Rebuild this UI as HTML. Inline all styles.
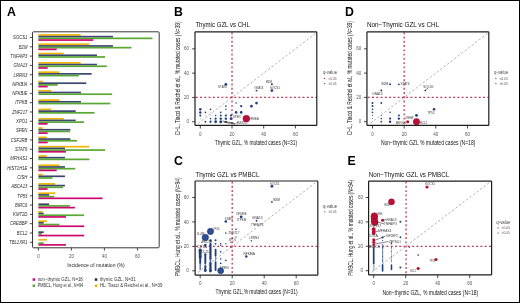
<!DOCTYPE html>
<html><head><meta charset="utf-8"><style>
html,body{margin:0;padding:0;background:#fff;}
svg{display:block;font-family:"Liberation Sans",sans-serif;will-change:transform;}
</style></head><body>
<svg width="520" height="303" viewBox="0 0 520 303">
<rect width="520" height="303" fill="#fff"/>
<rect x="0" y="0" width="520" height="1" fill="#000"/>
<rect x="0" y="302" width="520" height="1" fill="#000"/>
<rect x="0" y="0" width="1" height="303" fill="#000"/>
<rect x="519" y="0" width="1" height="303" fill="#000"/>
<text x="6.9" y="15.95" font-size="12.3" text-anchor="start" font-weight="bold" fill="#000">A</text>
<text x="173.9" y="15.85" font-size="12.3" text-anchor="start" font-weight="bold" fill="#000">B</text>
<text x="174.0" y="165.4" font-size="12.3" text-anchor="start" font-weight="bold" fill="#000">C</text>
<text x="344.9" y="15.7" font-size="12.3" text-anchor="start" font-weight="bold" fill="#000">D</text>
<text x="347.5" y="165.4" font-size="12.3" text-anchor="start" font-weight="bold" fill="#000">E</text>
<rect x="32.5" y="31.8" width="126.7" height="216.0" rx="1" fill="none" stroke="#222" stroke-width="0.9"/>
<rect x="38.4" y="34.10" width="42.24" height="1.7" fill="#efb500"/>
<rect x="38.4" y="35.80" width="74.58" height="1.7" fill="#3b4770"/>
<rect x="38.4" y="37.50" width="114.01" height="1.7" fill="#5aa735"/>
<rect x="38.4" y="39.20" width="54.94" height="1.7" fill="#cc0a6e"/>
<line x1="29.8" y1="37.50" x2="32.5" y2="37.50" stroke="#222" stroke-width="0.8"/>
<g transform="translate(27.4 0) scale(0.94 1)">
<text x="0" y="39.30" font-size="4.5" text-anchor="end" font-style="italic" fill="#2a2a2a">SOCS1</text>
</g>
<rect x="38.4" y="43.41" width="50.82" height="1.7" fill="#efb500"/>
<rect x="38.4" y="45.11" width="74.58" height="1.7" fill="#3b4770"/>
<rect x="38.4" y="46.81" width="93.06" height="1.7" fill="#5aa735"/>
<rect x="38.4" y="48.51" width="18.31" height="1.7" fill="#cc0a6e"/>
<line x1="29.8" y1="46.81" x2="32.5" y2="46.81" stroke="#222" stroke-width="0.8"/>
<g transform="translate(27.4 0) scale(0.94 1)">
<text x="0" y="48.61" font-size="4.5" text-anchor="end" font-style="italic" fill="#2a2a2a">B2M</text>
</g>
<rect x="38.4" y="52.72" width="25.41" height="1.7" fill="#efb500"/>
<rect x="38.4" y="54.42" width="58.57" height="1.7" fill="#3b4770"/>
<rect x="38.4" y="56.12" width="66.66" height="1.7" fill="#5aa735"/>
<line x1="29.8" y1="56.12" x2="32.5" y2="56.12" stroke="#222" stroke-width="0.8"/>
<g transform="translate(27.4 0) scale(0.94 1)">
<text x="0" y="57.92" font-size="4.5" text-anchor="end" font-style="italic" fill="#2a2a2a">TNFAIP3</text>
</g>
<rect x="38.4" y="62.03" width="42.24" height="1.7" fill="#efb500"/>
<rect x="38.4" y="63.73" width="58.57" height="1.7" fill="#3b4770"/>
<rect x="38.4" y="65.43" width="68.47" height="1.7" fill="#5aa735"/>
<rect x="38.4" y="67.13" width="9.24" height="1.7" fill="#cc0a6e"/>
<line x1="29.8" y1="65.43" x2="32.5" y2="65.43" stroke="#222" stroke-width="0.8"/>
<g transform="translate(27.4 0) scale(0.94 1)">
<text x="0" y="67.23" font-size="4.5" text-anchor="end" font-style="italic" fill="#2a2a2a">GNA13</text>
</g>
<rect x="38.4" y="71.34" width="21.12" height="1.7" fill="#efb500"/>
<rect x="38.4" y="73.04" width="53.29" height="1.7" fill="#3b4770"/>
<rect x="38.4" y="74.74" width="40.42" height="1.7" fill="#5aa735"/>
<line x1="29.8" y1="74.74" x2="32.5" y2="74.74" stroke="#222" stroke-width="0.8"/>
<g transform="translate(27.4 0) scale(0.94 1)">
<text x="0" y="76.54" font-size="4.5" text-anchor="end" font-style="italic" fill="#2a2a2a">LRRN3</text>
</g>
<rect x="38.4" y="80.65" width="4.29" height="1.7" fill="#efb500"/>
<rect x="38.4" y="82.35" width="47.85" height="1.7" fill="#3b4770"/>
<rect x="38.4" y="84.05" width="19.30" height="1.7" fill="#5aa735"/>
<rect x="38.4" y="85.75" width="9.24" height="1.7" fill="#cc0a6e"/>
<line x1="29.8" y1="84.05" x2="32.5" y2="84.05" stroke="#222" stroke-width="0.8"/>
<g transform="translate(27.4 0) scale(0.94 1)">
<text x="0" y="85.85" font-size="4.5" text-anchor="end" font-style="italic" fill="#2a2a2a">NFKBIA</text>
</g>
<rect x="38.4" y="89.96" width="12.71" height="1.7" fill="#efb500"/>
<rect x="38.4" y="91.66" width="42.57" height="1.7" fill="#3b4770"/>
<rect x="38.4" y="93.36" width="73.75" height="1.7" fill="#5aa735"/>
<line x1="29.8" y1="93.36" x2="32.5" y2="93.36" stroke="#222" stroke-width="0.8"/>
<g transform="translate(27.4 0) scale(0.94 1)">
<text x="0" y="95.16" font-size="4.5" text-anchor="end" font-style="italic" fill="#2a2a2a">NFKBIE</text>
</g>
<rect x="38.4" y="99.27" width="21.12" height="1.7" fill="#efb500"/>
<rect x="38.4" y="100.97" width="42.57" height="1.7" fill="#3b4770"/>
<rect x="38.4" y="102.67" width="71.94" height="1.7" fill="#5aa735"/>
<line x1="29.8" y1="102.67" x2="32.5" y2="102.67" stroke="#222" stroke-width="0.8"/>
<g transform="translate(27.4 0) scale(0.94 1)">
<text x="0" y="104.47" font-size="4.5" text-anchor="end" font-style="italic" fill="#2a2a2a">ITPKB</text>
</g>
<rect x="38.4" y="108.58" width="12.71" height="1.7" fill="#efb500"/>
<rect x="38.4" y="110.28" width="37.29" height="1.7" fill="#3b4770"/>
<rect x="38.4" y="111.98" width="56.10" height="1.7" fill="#5aa735"/>
<line x1="29.8" y1="111.98" x2="32.5" y2="111.98" stroke="#222" stroke-width="0.8"/>
<g transform="translate(27.4 0) scale(0.94 1)">
<text x="0" y="113.78" font-size="4.5" text-anchor="end" font-style="italic" fill="#2a2a2a">ZNF217</text>
</g>
<rect x="38.4" y="117.89" width="25.41" height="1.7" fill="#efb500"/>
<rect x="38.4" y="119.59" width="37.29" height="1.7" fill="#3b4770"/>
<rect x="38.4" y="121.29" width="45.70" height="1.7" fill="#5aa735"/>
<rect x="38.4" y="122.99" width="9.24" height="1.7" fill="#cc0a6e"/>
<line x1="29.8" y1="121.29" x2="32.5" y2="121.29" stroke="#222" stroke-width="0.8"/>
<g transform="translate(27.4 0) scale(0.94 1)">
<text x="0" y="123.09" font-size="4.5" text-anchor="end" font-style="italic" fill="#2a2a2a">XPO1</text>
</g>
<rect x="38.4" y="127.20" width="4.29" height="1.7" fill="#efb500"/>
<rect x="38.4" y="128.90" width="32.01" height="1.7" fill="#3b4770"/>
<rect x="38.4" y="130.60" width="31.52" height="1.7" fill="#5aa735"/>
<rect x="38.4" y="132.30" width="9.24" height="1.7" fill="#cc0a6e"/>
<line x1="29.8" y1="130.60" x2="32.5" y2="130.60" stroke="#222" stroke-width="0.8"/>
<g transform="translate(27.4 0) scale(0.94 1)">
<text x="0" y="132.40" font-size="4.5" text-anchor="end" font-style="italic" fill="#2a2a2a">SPEN</text>
</g>
<rect x="38.4" y="136.51" width="8.41" height="1.7" fill="#efb500"/>
<rect x="38.4" y="138.21" width="32.01" height="1.7" fill="#3b4770"/>
<rect x="38.4" y="139.91" width="38.61" height="1.7" fill="#5aa735"/>
<rect x="38.4" y="141.61" width="9.24" height="1.7" fill="#cc0a6e"/>
<line x1="29.8" y1="139.91" x2="32.5" y2="139.91" stroke="#222" stroke-width="0.8"/>
<g transform="translate(27.4 0) scale(0.94 1)">
<text x="0" y="141.71" font-size="4.5" text-anchor="end" font-style="italic" fill="#2a2a2a">CSF2RB</text>
</g>
<rect x="38.4" y="145.82" width="50.82" height="1.7" fill="#efb500"/>
<rect x="38.4" y="147.52" width="26.57" height="1.7" fill="#3b4770"/>
<rect x="38.4" y="149.22" width="66.66" height="1.7" fill="#5aa735"/>
<rect x="38.4" y="150.92" width="27.55" height="1.7" fill="#cc0a6e"/>
<line x1="29.8" y1="149.22" x2="32.5" y2="149.22" stroke="#222" stroke-width="0.8"/>
<g transform="translate(27.4 0) scale(0.94 1)">
<text x="0" y="151.02" font-size="4.5" text-anchor="end" font-style="italic" fill="#2a2a2a">STAT6</text>
</g>
<rect x="38.4" y="155.13" width="8.41" height="1.7" fill="#efb500"/>
<rect x="38.4" y="156.83" width="26.57" height="1.7" fill="#3b4770"/>
<rect x="38.4" y="158.53" width="50.98" height="1.7" fill="#5aa735"/>
<line x1="29.8" y1="158.53" x2="32.5" y2="158.53" stroke="#222" stroke-width="0.8"/>
<g transform="translate(27.4 0) scale(0.94 1)">
<text x="0" y="160.33" font-size="4.5" text-anchor="end" font-style="italic" fill="#2a2a2a">MFHAS1</text>
</g>
<rect x="38.4" y="164.44" width="21.12" height="1.7" fill="#efb500"/>
<rect x="38.4" y="166.14" width="26.57" height="1.7" fill="#3b4770"/>
<rect x="38.4" y="167.84" width="36.80" height="1.7" fill="#5aa735"/>
<rect x="38.4" y="169.54" width="18.31" height="1.7" fill="#cc0a6e"/>
<line x1="29.8" y1="167.84" x2="32.5" y2="167.84" stroke="#222" stroke-width="0.8"/>
<g transform="translate(27.4 0) scale(0.94 1)">
<text x="0" y="169.64" font-size="4.5" text-anchor="end" font-style="italic" fill="#2a2a2a">HIST1H1E</text>
</g>
<rect x="38.4" y="173.75" width="4.29" height="1.7" fill="#efb500"/>
<rect x="38.4" y="175.45" width="26.57" height="1.7" fill="#3b4770"/>
<rect x="38.4" y="177.15" width="14.02" height="1.7" fill="#5aa735"/>
<line x1="29.8" y1="177.15" x2="32.5" y2="177.15" stroke="#222" stroke-width="0.8"/>
<g transform="translate(27.4 0) scale(0.94 1)">
<text x="0" y="178.95" font-size="4.5" text-anchor="end" font-style="italic" fill="#2a2a2a">CISH</text>
</g>
<rect x="38.4" y="183.06" width="17.00" height="1.7" fill="#efb500"/>
<rect x="38.4" y="184.76" width="26.57" height="1.7" fill="#3b4770"/>
<rect x="38.4" y="186.46" width="24.59" height="1.7" fill="#5aa735"/>
<rect x="38.4" y="188.16" width="9.24" height="1.7" fill="#cc0a6e"/>
<line x1="29.8" y1="186.46" x2="32.5" y2="186.46" stroke="#222" stroke-width="0.8"/>
<g transform="translate(27.4 0) scale(0.94 1)">
<text x="0" y="188.26" font-size="4.5" text-anchor="end" font-style="italic" fill="#2a2a2a">ABCA13</text>
</g>
<rect x="38.4" y="192.37" width="17.00" height="1.7" fill="#efb500"/>
<rect x="38.4" y="194.07" width="10.72" height="1.7" fill="#3b4770"/>
<rect x="38.4" y="195.77" width="15.84" height="1.7" fill="#5aa735"/>
<rect x="38.4" y="197.47" width="64.18" height="1.7" fill="#cc0a6e"/>
<line x1="29.8" y1="195.77" x2="32.5" y2="195.77" stroke="#222" stroke-width="0.8"/>
<g transform="translate(27.4 0) scale(0.94 1)">
<text x="0" y="197.57" font-size="4.5" text-anchor="end" font-style="italic" fill="#2a2a2a">TP53</text>
</g>
<rect x="38.4" y="203.38" width="10.72" height="1.7" fill="#3b4770"/>
<rect x="38.4" y="205.08" width="31.52" height="1.7" fill="#5aa735"/>
<rect x="38.4" y="206.78" width="36.63" height="1.7" fill="#cc0a6e"/>
<line x1="29.8" y1="205.08" x2="32.5" y2="205.08" stroke="#222" stroke-width="0.8"/>
<g transform="translate(27.4 0) scale(0.94 1)">
<text x="0" y="206.88" font-size="4.5" text-anchor="end" font-style="italic" fill="#2a2a2a">BIRC6</text>
</g>
<rect x="38.4" y="210.99" width="4.29" height="1.7" fill="#efb500"/>
<rect x="38.4" y="212.69" width="5.28" height="1.7" fill="#3b4770"/>
<rect x="38.4" y="214.39" width="45.70" height="1.7" fill="#5aa735"/>
<rect x="38.4" y="216.09" width="27.55" height="1.7" fill="#cc0a6e"/>
<line x1="29.8" y1="214.39" x2="32.5" y2="214.39" stroke="#222" stroke-width="0.8"/>
<g transform="translate(27.4 0) scale(0.94 1)">
<text x="0" y="216.19" font-size="4.5" text-anchor="end" font-style="italic" fill="#2a2a2a">KMT2D</text>
</g>
<rect x="38.4" y="220.30" width="8.41" height="1.7" fill="#efb500"/>
<rect x="38.4" y="222.00" width="5.28" height="1.7" fill="#3b4770"/>
<rect x="38.4" y="223.70" width="21.12" height="1.7" fill="#5aa735"/>
<rect x="38.4" y="225.40" width="45.87" height="1.7" fill="#cc0a6e"/>
<line x1="29.8" y1="223.70" x2="32.5" y2="223.70" stroke="#222" stroke-width="0.8"/>
<g transform="translate(27.4 0) scale(0.94 1)">
<text x="0" y="225.50" font-size="4.5" text-anchor="end" font-style="italic" fill="#2a2a2a">CREBBP</text>
</g>
<rect x="38.4" y="231.31" width="5.28" height="1.7" fill="#3b4770"/>
<rect x="38.4" y="233.01" width="3.46" height="1.7" fill="#5aa735"/>
<rect x="38.4" y="234.71" width="45.87" height="1.7" fill="#cc0a6e"/>
<line x1="29.8" y1="233.01" x2="32.5" y2="233.01" stroke="#222" stroke-width="0.8"/>
<g transform="translate(27.4 0) scale(0.94 1)">
<text x="0" y="234.81" font-size="4.5" text-anchor="end" font-style="italic" fill="#2a2a2a">BCL2</text>
</g>
<rect x="38.4" y="238.92" width="8.41" height="1.7" fill="#efb500"/>
<rect x="38.4" y="242.32" width="5.28" height="1.7" fill="#5aa735"/>
<rect x="38.4" y="244.02" width="27.55" height="1.7" fill="#cc0a6e"/>
<line x1="29.8" y1="242.32" x2="32.5" y2="242.32" stroke="#222" stroke-width="0.8"/>
<g transform="translate(27.4 0) scale(0.94 1)">
<text x="0" y="244.12" font-size="4.5" text-anchor="end" font-style="italic" fill="#2a2a2a">TBL1XR1</text>
</g>
<line x1="38.40" y1="247.8" x2="38.40" y2="250.6" stroke="#222" stroke-width="0.8"/>
<text x="38.40" y="258.0" font-size="4.5" text-anchor="middle" fill="#555">0</text>
<line x1="71.40" y1="247.8" x2="71.40" y2="250.6" stroke="#222" stroke-width="0.8"/>
<text x="71.40" y="258.0" font-size="4.5" text-anchor="middle" fill="#555">20</text>
<line x1="104.40" y1="247.8" x2="104.40" y2="250.6" stroke="#222" stroke-width="0.8"/>
<text x="104.40" y="258.0" font-size="4.5" text-anchor="middle" fill="#555">40</text>
<line x1="137.40" y1="247.8" x2="137.40" y2="250.6" stroke="#222" stroke-width="0.8"/>
<text x="137.40" y="258.0" font-size="4.5" text-anchor="middle" fill="#555">60</text>
<text x="67.2" y="267.2" font-size="6.0" text-anchor="start" textLength="57.6" lengthAdjust="spacingAndGlyphs" fill="#1e1e1e">Incidence of mutation (%)</text>
<rect x="32.6" y="278.3" width="2.5" height="2.5" fill="#cc0a6e"/>
<text x="37.699999999999996" y="280.70" font-size="4.6" text-anchor="start" textLength="45.1" lengthAdjust="spacingAndGlyphs" fill="#333">non−thymic GZL, N=18</text>
<rect x="94.8" y="278.3" width="2.5" height="2.5" fill="#222a4a"/>
<text x="99.89999999999999" y="280.70" font-size="4.6" text-anchor="start" textLength="35.9" lengthAdjust="spacingAndGlyphs" fill="#333">thymic GZL, N=31</text>
<rect x="32.6" y="284.5" width="2.5" height="2.5" fill="#5aa735"/>
<text x="37.699999999999996" y="286.90" font-size="4.6" text-anchor="start" textLength="45.5" lengthAdjust="spacingAndGlyphs" fill="#333">PMBCL, Hung et al., N=94</text>
<rect x="94.8" y="284.5" width="2.5" height="2.5" fill="#efb500"/>
<text x="99.89999999999999" y="286.90" font-size="4.6" text-anchor="start" textLength="62.5" lengthAdjust="spacingAndGlyphs" fill="#333">HL: Tiacci &amp; Reichel et al., N=39</text>
<text x="195.4" y="27.4" font-size="6.4" text-anchor="start" textLength="54.5" lengthAdjust="spacingAndGlyphs" fill="#111">Thymic GZL vs CHL</text>
<line x1="198.24" y1="123.33" x2="315.69" y2="33.30" stroke="#a0a0a0" stroke-width="0.8" stroke-dasharray="2.4,2.0"/>
<line x1="232.00" y1="32.30" x2="232.00" y2="125.30" stroke="#c13556" stroke-width="1.3" stroke-dasharray="1.9,2.37"/>
<line x1="195.80" y1="97.45" x2="316.80" y2="97.45" stroke="#c13556" stroke-width="1.3" stroke-dasharray="1.9,2.37"/>
<circle cx="200.30" cy="109.29" r="1.3" fill="#1f3f7a" fill-opacity="1"/>
<circle cx="200.30" cy="112.40" r="1.25" fill="#1f3f7a" fill-opacity="1"/>
<circle cx="200.30" cy="115.52" r="1.0" fill="#1f3f7a" fill-opacity="1"/>
<circle cx="200.30" cy="118.63" r="0.5" fill="#1f3f7a" fill-opacity="0.5"/>
<circle cx="205.41" cy="112.40" r="0.8" fill="#1f3f7a" fill-opacity="1"/>
<circle cx="205.41" cy="115.52" r="0.5" fill="#1f3f7a" fill-opacity="0.35"/>
<circle cx="205.41" cy="121.75" r="0.95" fill="#1f3f7a" fill-opacity="1"/>
<circle cx="210.53" cy="109.29" r="0.85" fill="#1f3f7a" fill-opacity="1"/>
<circle cx="210.53" cy="112.40" r="0.5" fill="#1f3f7a" fill-opacity="0.35"/>
<circle cx="210.53" cy="115.52" r="0.5" fill="#1f3f7a" fill-opacity="0.35"/>
<circle cx="210.53" cy="118.63" r="0.8" fill="#1f3f7a" fill-opacity="1"/>
<circle cx="210.53" cy="121.75" r="1.15" fill="#1f3f7a" fill-opacity="1"/>
<circle cx="215.64" cy="106.17" r="0.6" fill="#1f3f7a" fill-opacity="0.2"/>
<circle cx="215.64" cy="115.52" r="0.8" fill="#1f3f7a" fill-opacity="1"/>
<circle cx="215.64" cy="118.63" r="1.1" fill="#1f3f7a" fill-opacity="1"/>
<circle cx="215.64" cy="121.75" r="1.4" fill="#1f3f7a" fill-opacity="1"/>
<circle cx="220.75" cy="112.40" r="0.8" fill="#1f3f7a" fill-opacity="1"/>
<circle cx="220.75" cy="115.52" r="1.0" fill="#1f3f7a" fill-opacity="1"/>
<circle cx="220.75" cy="118.63" r="1.2" fill="#1f3f7a" fill-opacity="1"/>
<circle cx="220.75" cy="121.75" r="1.5" fill="#1f3f7a" fill-opacity="1"/>
<circle cx="225.86" cy="121.75" r="1.1" fill="#1f3f7a" fill-opacity="1"/>
<circle cx="225.86" cy="106.17" r="0.8" fill="#1f3f7a" fill-opacity="1"/>
<circle cx="225.86" cy="109.29" r="0.8" fill="#1f3f7a" fill-opacity="1"/>
<circle cx="225.86" cy="115.52" r="1.1" fill="#1f3f7a" fill-opacity="1"/>
<circle cx="225.86" cy="118.63" r="1.2" fill="#1f3f7a" fill-opacity="1"/>
<circle cx="230.98" cy="115.52" r="1.1" fill="#1f3f7a" fill-opacity="1"/>
<circle cx="230.98" cy="118.63" r="1.3" fill="#1f3f7a" fill-opacity="1"/>
<circle cx="236.09" cy="103.06" r="0.8" fill="#1f3f7a" fill-opacity="1"/>
<circle cx="236.09" cy="112.40" r="1.3" fill="#1f3f7a" fill-opacity="1"/>
<circle cx="241.20" cy="106.17" r="1.1" fill="#1f3f7a" fill-opacity="1"/>
<circle cx="241.20" cy="112.40" r="1.3" fill="#1f3f7a" fill-opacity="1"/>
<circle cx="251.43" cy="106.17" r="1.35" fill="#1f3f7a" fill-opacity="1"/>
<circle cx="256.54" cy="103.06" r="1.35" fill="#1f3f7a" fill-opacity="1"/>
<circle cx="225.86" cy="84.37" r="1.35" fill="#1f3f7a" fill-opacity="1"/>
<circle cx="256.54" cy="90.60" r="0.95" fill="#1f3f7a" fill-opacity="1"/>
<circle cx="271.88" cy="84.37" r="1.0" fill="#1f3f7a" fill-opacity="1"/>
<circle cx="271.88" cy="90.60" r="1.35" fill="#1f3f7a" fill-opacity="1"/>
<circle cx="246.32" cy="118.63" r="3.4" fill="#bd0f35" stroke="#a00a2c" stroke-width="0.5"/>
<path d="M222.5 121.0 L235.5 123.6 M224 122.3 L235 124" stroke="#222" stroke-width="0.6"/>
<text x="218" y="87.6" font-size="3.5" text-anchor="start" textLength="9.0" lengthAdjust="spacingAndGlyphs" fill="#3a3a3a">STAT6</text>
<text x="254.4" y="88.6" font-size="3.5" text-anchor="start" textLength="8.8" lengthAdjust="spacingAndGlyphs" fill="#3a3a3a">GNA13</text>
<text x="265.9" y="82.7" font-size="3.5" text-anchor="start" textLength="6.0" lengthAdjust="spacingAndGlyphs" fill="#3a3a3a">B2M</text>
<text x="269.9" y="88.6" font-size="3.5" text-anchor="start" textLength="10.1" lengthAdjust="spacingAndGlyphs" fill="#3a3a3a">SOCS1</text>
<text x="233" y="117.6" font-size="3.5" text-anchor="start" textLength="7.6" lengthAdjust="spacingAndGlyphs" fill="#3a3a3a">SPEN</text>
<text x="248.6" y="120" font-size="3.5" text-anchor="start" textLength="10.2" lengthAdjust="spacingAndGlyphs" fill="#3a3a3a">NFKBIA</text>
<text x="236.5" y="124.4" font-size="3.5" text-anchor="start" textLength="11" lengthAdjust="spacingAndGlyphs" fill="#3a3a3a">ANKRD11</text>
<rect x="195.00" y="31.80" width="121.80" height="93.50" rx="0.6" fill="none" stroke="#1e1e1e" stroke-width="1.2"/>
<line x1="200.30" y1="125.30" x2="200.30" y2="128.50" stroke="#222" stroke-width="0.85"/>
<text x="200.30" y="135.60" font-size="4.5" text-anchor="middle" fill="#555">0</text>
<line x1="192.10" y1="121.75" x2="195.00" y2="121.75" stroke="#222" stroke-width="0.85"/>
<text x="188.90" y="123.35" font-size="4.5" text-anchor="end" fill="#555">0</text>
<line x1="232.00" y1="125.30" x2="232.00" y2="128.50" stroke="#222" stroke-width="0.85"/>
<text x="232.00" y="135.60" font-size="4.5" text-anchor="middle" fill="#555">20</text>
<line x1="192.10" y1="97.45" x2="195.00" y2="97.45" stroke="#222" stroke-width="0.85"/>
<text x="188.90" y="99.05" font-size="4.5" text-anchor="end" fill="#555">20</text>
<line x1="263.70" y1="125.30" x2="263.70" y2="128.50" stroke="#222" stroke-width="0.85"/>
<text x="263.70" y="135.60" font-size="4.5" text-anchor="middle" fill="#555">40</text>
<line x1="192.10" y1="73.15" x2="195.00" y2="73.15" stroke="#222" stroke-width="0.85"/>
<text x="188.90" y="74.75" font-size="4.5" text-anchor="end" fill="#555">40</text>
<line x1="295.40" y1="125.30" x2="295.40" y2="128.50" stroke="#222" stroke-width="0.85"/>
<text x="295.40" y="135.60" font-size="4.5" text-anchor="middle" fill="#555">60</text>
<line x1="192.10" y1="48.85" x2="195.00" y2="48.85" stroke="#222" stroke-width="0.85"/>
<text x="188.90" y="50.45" font-size="4.5" text-anchor="end" fill="#555">60</text>
<text x="214.8" y="144.6" font-size="6.6" text-anchor="start" textLength="82.3" lengthAdjust="spacingAndGlyphs" fill="#161616">Thymic GZL, % mutated cases (N=31)</text>
<text x="180.3" y="135.2" font-size="6.6" text-anchor="start" textLength="113.8" lengthAdjust="spacingAndGlyphs" transform="rotate(-90 180.3 135.2)" fill="#161616">CHL, Tiacci &amp; Reichel et al., % mutated cases (N=39)</text>
<text x="322.90000000000003" y="74.39999999999999" font-size="4.5" text-anchor="start" textLength="14.2" lengthAdjust="spacingAndGlyphs" fill="#4a4a4a">q-value</text>
<circle cx="324.70" cy="78.40" r="0.6" fill="#b90c32"/>
<text x="328.2" y="79.70" font-size="3.6" text-anchor="start" textLength="8.4" lengthAdjust="spacingAndGlyphs" fill="#555">&lt;0.05</text>
<circle cx="324.70" cy="83.60" r="0.6" fill="#1f3f7a"/>
<text x="328.2" y="84.90" font-size="3.6" text-anchor="start" textLength="8.4" lengthAdjust="spacingAndGlyphs" fill="#555">&gt;0.05</text>
<text x="366.9" y="27.3" font-size="6.4" text-anchor="start" textLength="72.3" lengthAdjust="spacingAndGlyphs" fill="#111">Non−Thymic GZL vs CHL</text>
<line x1="370.44" y1="123.28" x2="487.74" y2="33.25" stroke="#a0a0a0" stroke-width="0.8" stroke-dasharray="2.4,2.0"/>
<line x1="404.16" y1="32.30" x2="404.16" y2="125.30" stroke="#c13556" stroke-width="1.3" stroke-dasharray="1.9,2.37"/>
<line x1="367.75" y1="97.40" x2="488.80" y2="97.40" stroke="#c13556" stroke-width="1.3" stroke-dasharray="1.9,2.37"/>
<circle cx="372.50" cy="103.01" r="1.0" fill="#1f3f7a" fill-opacity="1"/>
<circle cx="372.50" cy="106.12" r="1.0" fill="#1f3f7a" fill-opacity="1"/>
<circle cx="372.50" cy="109.24" r="0.85" fill="#1f3f7a" fill-opacity="1"/>
<circle cx="372.50" cy="112.35" r="0.85" fill="#1f3f7a" fill-opacity="1"/>
<circle cx="372.50" cy="115.47" r="0.55" fill="#1f3f7a" fill-opacity="1"/>
<circle cx="372.50" cy="118.58" r="0.5" fill="#1f3f7a" fill-opacity="0.7"/>
<circle cx="372.50" cy="121.70" r="0.45" fill="#1f3f7a" fill-opacity="0.6"/>
<circle cx="381.29" cy="103.01" r="0.9" fill="#1f3f7a" fill-opacity="1"/>
<circle cx="381.29" cy="109.24" r="0.5" fill="#1f3f7a" fill-opacity="0.3"/>
<circle cx="381.29" cy="112.35" r="0.5" fill="#1f3f7a" fill-opacity="0.3"/>
<circle cx="381.29" cy="115.47" r="0.55" fill="#1f3f7a" fill-opacity="1"/>
<circle cx="381.29" cy="118.58" r="0.8" fill="#1f3f7a" fill-opacity="1"/>
<circle cx="381.29" cy="121.70" r="0.9" fill="#1f3f7a" fill-opacity="1"/>
<circle cx="390.09" cy="106.12" r="0.5" fill="#1f3f7a" fill-opacity="0.25"/>
<circle cx="390.09" cy="112.35" r="0.8" fill="#1f3f7a" fill-opacity="1"/>
<circle cx="390.09" cy="118.58" r="1.1" fill="#1f3f7a" fill-opacity="1"/>
<circle cx="390.09" cy="121.70" r="1.2" fill="#1f3f7a" fill-opacity="1"/>
<circle cx="398.88" cy="115.47" r="1.0" fill="#1f3f7a" fill-opacity="1"/>
<circle cx="398.88" cy="118.58" r="1.2" fill="#1f3f7a" fill-opacity="1"/>
<circle cx="416.47" cy="115.47" r="1.4" fill="#1f3f7a" fill-opacity="1"/>
<circle cx="434.06" cy="109.24" r="1.3" fill="#1f3f7a" fill-opacity="1"/>
<circle cx="390.09" cy="84.32" r="1.0" fill="#1f3f7a" fill-opacity="1"/>
<circle cx="398.88" cy="84.32" r="0.9" fill="#1f3f7a" fill-opacity="1"/>
<circle cx="381.29" cy="90.55" r="1.0" fill="#1f3f7a" fill-opacity="1"/>
<circle cx="425.27" cy="90.55" r="0.85" fill="#1f3f7a" fill-opacity="1"/>
<circle cx="407.68" cy="121.70" r="1.5" fill="#b90c32" fill-opacity="1"/>
<circle cx="416.47" cy="121.70" r="3.25" fill="#bd0f35" stroke="#a00a2c" stroke-width="0.5"/>
<path d="M425.4 90.1 L428 88.2" stroke="#222" stroke-width="0.6"/>
<text x="381.4" y="85.4" font-size="3.5" text-anchor="start" textLength="6.9" lengthAdjust="spacingAndGlyphs" fill="#3a3a3a">B2M</text>
<text x="400.6" y="85.4" font-size="3.5" text-anchor="start" textLength="8.8" lengthAdjust="spacingAndGlyphs" fill="#3a3a3a">STAT6</text>
<text x="372.2" y="94.6" font-size="3.5" text-anchor="start" textLength="10.4" lengthAdjust="spacingAndGlyphs" fill="#3a3a3a">GNA13</text>
<text x="423.2" y="88.0" font-size="3.5" text-anchor="start" textLength="10.5" lengthAdjust="spacingAndGlyphs" fill="#3a3a3a">SOCS1</text>
<text x="396" y="123.8" font-size="3.5" text-anchor="start" textLength="10.2" lengthAdjust="spacingAndGlyphs" fill="#3a3a3a">BIRC6</text>
<text x="405" y="119" font-size="3.5" text-anchor="start" textLength="8.8" lengthAdjust="spacingAndGlyphs" fill="#3a3a3a">CREBBP</text>
<text x="420" y="123.8" font-size="3.5" text-anchor="start" textLength="7.2" lengthAdjust="spacingAndGlyphs" fill="#3a3a3a">BCL2</text>
<text x="427.2" y="113.7" font-size="3.5" text-anchor="start" textLength="7.2" lengthAdjust="spacingAndGlyphs" fill="#3a3a3a">TP53</text>
<rect x="366.95" y="31.80" width="121.85" height="93.50" rx="0.6" fill="none" stroke="#1e1e1e" stroke-width="1.2"/>
<line x1="372.50" y1="125.30" x2="372.50" y2="128.50" stroke="#222" stroke-width="0.85"/>
<text x="372.50" y="135.60" font-size="4.5" text-anchor="middle" fill="#555">0</text>
<line x1="364.05" y1="121.70" x2="366.95" y2="121.70" stroke="#222" stroke-width="0.85"/>
<text x="361.35" y="123.30" font-size="4.5" text-anchor="end" fill="#555">0</text>
<line x1="404.16" y1="125.30" x2="404.16" y2="128.50" stroke="#222" stroke-width="0.85"/>
<text x="404.16" y="135.60" font-size="4.5" text-anchor="middle" fill="#555">20</text>
<line x1="364.05" y1="97.40" x2="366.95" y2="97.40" stroke="#222" stroke-width="0.85"/>
<text x="361.35" y="99.00" font-size="4.5" text-anchor="end" fill="#555">20</text>
<line x1="435.82" y1="125.30" x2="435.82" y2="128.50" stroke="#222" stroke-width="0.85"/>
<text x="435.82" y="135.60" font-size="4.5" text-anchor="middle" fill="#555">40</text>
<line x1="364.05" y1="73.10" x2="366.95" y2="73.10" stroke="#222" stroke-width="0.85"/>
<text x="361.35" y="74.70" font-size="4.5" text-anchor="end" fill="#555">40</text>
<line x1="467.48" y1="125.30" x2="467.48" y2="128.50" stroke="#222" stroke-width="0.85"/>
<text x="467.48" y="135.60" font-size="4.5" text-anchor="middle" fill="#555">60</text>
<line x1="364.05" y1="48.80" x2="366.95" y2="48.80" stroke="#222" stroke-width="0.85"/>
<text x="361.35" y="50.40" font-size="4.5" text-anchor="end" fill="#555">60</text>
<text x="380.9" y="145.3" font-size="6.6" text-anchor="start" textLength="94.5" lengthAdjust="spacingAndGlyphs" fill="#161616">Non−thymic GZL % mutated cases (N=18)</text>
<text x="352.4" y="135.2" font-size="6.6" text-anchor="start" textLength="114.1" lengthAdjust="spacingAndGlyphs" transform="rotate(-90 352.4 135.2)" fill="#161616">CHL, Tiacci &amp; Reichel et al., % mutated cases (N=39)</text>
<text x="494.1" y="74.39999999999999" font-size="4.5" text-anchor="start" textLength="14.2" lengthAdjust="spacingAndGlyphs" fill="#4a4a4a">q-value</text>
<circle cx="495.90" cy="78.40" r="0.6" fill="#b90c32"/>
<text x="499.4" y="79.70" font-size="3.6" text-anchor="start" textLength="8.4" lengthAdjust="spacingAndGlyphs" fill="#555">&lt;0.05</text>
<circle cx="495.90" cy="83.60" r="0.6" fill="#1f3f7a"/>
<text x="499.4" y="84.90" font-size="3.6" text-anchor="start" textLength="8.4" lengthAdjust="spacingAndGlyphs" fill="#555">&gt;0.05</text>
<text x="195.4" y="176.5" font-size="6.4" text-anchor="start" textLength="64.1" lengthAdjust="spacingAndGlyphs" fill="#111">Thymic GZL vs PMBCL</text>
<line x1="198.12" y1="272.39" x2="316.68" y2="181.84" stroke="#a0a0a0" stroke-width="0.8" stroke-dasharray="2.4,2.0"/>
<line x1="232.20" y1="181.50" x2="232.20" y2="275.10" stroke="#c13556" stroke-width="1.3" stroke-dasharray="1.9,2.37"/>
<line x1="195.90" y1="246.36" x2="317.80" y2="246.36" stroke="#c13556" stroke-width="1.3" stroke-dasharray="1.9,2.37"/>
<line x1="200.20" y1="249.78" x2="200.20" y2="257.36" stroke="#1f3f7a" stroke-width="2.8" stroke-linecap="round" stroke-opacity="1"/>
<line x1="200.20" y1="257.36" x2="200.20" y2="262.86" stroke="#1f3f7a" stroke-width="2.0" stroke-linecap="round" stroke-opacity="1"/>
<line x1="200.20" y1="262.86" x2="200.20" y2="269.50" stroke="#1f3f7a" stroke-width="1.4" stroke-linecap="round" stroke-opacity="0.75"/>
<line x1="205.32" y1="254.67" x2="205.32" y2="262.98" stroke="#1f3f7a" stroke-width="1.9" stroke-linecap="round" stroke-opacity="1"/>
<line x1="205.32" y1="262.98" x2="205.32" y2="266.52" stroke="#1f3f7a" stroke-width="1.4" stroke-linecap="round" stroke-opacity="0.55"/>
<line x1="205.32" y1="266.52" x2="205.32" y2="271.17" stroke="#1f3f7a" stroke-width="1.9" stroke-linecap="round" stroke-opacity="1"/>
<line x1="210.45" y1="244.16" x2="210.45" y2="258.58" stroke="#1f3f7a" stroke-width="2.2" stroke-linecap="round" stroke-opacity="1"/>
<line x1="210.45" y1="258.58" x2="210.45" y2="263.47" stroke="#1f3f7a" stroke-width="1.6" stroke-linecap="round" stroke-opacity="0.75"/>
<line x1="210.45" y1="263.47" x2="210.45" y2="271.29" stroke="#1f3f7a" stroke-width="2.3" stroke-linecap="round" stroke-opacity="1"/>
<line x1="215.57" y1="249.66" x2="215.57" y2="255.53" stroke="#1f3f7a" stroke-width="1.8" stroke-linecap="round" stroke-opacity="1"/>
<line x1="215.57" y1="255.53" x2="215.57" y2="262.49" stroke="#1f3f7a" stroke-width="1.3" stroke-linecap="round" stroke-opacity="0.55"/>
<line x1="215.57" y1="262.49" x2="215.57" y2="270.07" stroke="#1f3f7a" stroke-width="1.8" stroke-linecap="round" stroke-opacity="1"/>
<circle cx="200.20" cy="250.27" r="1.3" fill="#1f3f7a" fill-opacity="1"/>
<circle cx="205.32" cy="254.30" r="1.1" fill="#1f3f7a" fill-opacity="1"/>
<circle cx="205.32" cy="270.31" r="1.2" fill="#1f3f7a" fill-opacity="1"/>
<circle cx="210.45" cy="270.43" r="1.3" fill="#1f3f7a" fill-opacity="1"/>
<circle cx="205.32" cy="244.89" r="1.25" fill="#1f3f7a" fill-opacity="1"/>
<circle cx="210.45" cy="240.49" r="1.3" fill="#1f3f7a" fill-opacity="1"/>
<circle cx="215.57" cy="240.25" r="1.0" fill="#1f3f7a" fill-opacity="1"/>
<circle cx="215.57" cy="243.79" r="0.9" fill="#1f3f7a" fill-opacity="1"/>
<circle cx="220.69" cy="243.79" r="0.8" fill="#1f3f7a" fill-opacity="1"/>
<circle cx="220.69" cy="245.14" r="0.7" fill="#1f3f7a" fill-opacity="1"/>
<circle cx="220.69" cy="251.86" r="0.8" fill="#1f3f7a" fill-opacity="1"/>
<circle cx="220.69" cy="259.07" r="0.8" fill="#1f3f7a" fill-opacity="1"/>
<circle cx="220.69" cy="263.35" r="0.9" fill="#1f3f7a" fill-opacity="1"/>
<circle cx="225.81" cy="243.79" r="0.7" fill="#1f3f7a" fill-opacity="1"/>
<circle cx="225.81" cy="260.41" r="0.8" fill="#1f3f7a" fill-opacity="1"/>
<circle cx="230.94" cy="242.21" r="0.6" fill="#1f3f7a" fill-opacity="1"/>
<circle cx="230.94" cy="247.46" r="0.6" fill="#1f3f7a" fill-opacity="1"/>
<circle cx="236.06" cy="236.95" r="0.6" fill="#1f3f7a" fill-opacity="1"/>
<circle cx="210.45" cy="231.45" r="3.0999999999999996" fill="#2c4e92" stroke="#1a346c" stroke-width="0.6"/>
<circle cx="205.32" cy="237.44" r="3.1999999999999997" fill="#2c4e92" stroke="#1a346c" stroke-width="0.6"/>
<circle cx="220.69" cy="270.80" r="3.0" fill="#2c4e92" stroke="#1a346c" stroke-width="0.6"/>
<circle cx="225.81" cy="233.04" r="0.8" fill="#1f3f7a" fill-opacity="1"/>
<circle cx="225.81" cy="221.43" r="1.3" fill="#1f3f7a" fill-opacity="1"/>
<circle cx="236.06" cy="229.25" r="0.8" fill="#1f3f7a" fill-opacity="1"/>
<circle cx="241.18" cy="216.79" r="1.4" fill="#1f3f7a" fill-opacity="1"/>
<circle cx="256.55" cy="220.70" r="0.95" fill="#1f3f7a" fill-opacity="1"/>
<circle cx="271.92" cy="186.36" r="1.45" fill="#1f3f7a" fill-opacity="1"/>
<circle cx="271.92" cy="201.88" r="0.9" fill="#1f3f7a" fill-opacity="1"/>
<circle cx="251.43" cy="240.86" r="0.75" fill="#1f3f7a" fill-opacity="1"/>
<circle cx="246.30" cy="256.50" r="1.2" fill="#1f3f7a" fill-opacity="1"/>
<text x="270" y="184.6" font-size="3.5" text-anchor="start" textLength="9.5" lengthAdjust="spacingAndGlyphs" fill="#3a3a3a">SOCS1</text>
<text x="273.5" y="200.9" font-size="3.5" text-anchor="start" textLength="6.5" lengthAdjust="spacingAndGlyphs" fill="#3a3a3a">B2M</text>
<text x="236.5" y="215" font-size="3.5" text-anchor="start" textLength="10" lengthAdjust="spacingAndGlyphs" fill="#3a3a3a">NFKBIE</text>
<text x="237" y="221.3" font-size="3.5" text-anchor="start" textLength="9" lengthAdjust="spacingAndGlyphs" fill="#3a3a3a">ITPKB</text>
<text x="252" y="219.2" font-size="3.5" text-anchor="start" textLength="10.5" lengthAdjust="spacingAndGlyphs" fill="#3a3a3a">GNA13</text>
<text x="251" y="225.9" font-size="3.5" text-anchor="start" textLength="12.5" lengthAdjust="spacingAndGlyphs" fill="#3a3a3a">TNFAIP3</text>
<text x="224.8" y="220.4" font-size="3.5" text-anchor="start" textLength="8.4" lengthAdjust="spacingAndGlyphs" fill="#3a3a3a">STAT6</text>
<text x="228.5" y="233.5" font-size="3.5" text-anchor="start" textLength="11" lengthAdjust="spacingAndGlyphs" fill="#3a3a3a">ZNF217</text>
<text x="228.7" y="241" font-size="3.5" text-anchor="start" textLength="7.5" lengthAdjust="spacingAndGlyphs" fill="#3a3a3a">XPO1</text>
<text x="249" y="238.8" font-size="3.5" text-anchor="start" textLength="10" lengthAdjust="spacingAndGlyphs" fill="#3a3a3a">LRRN3</text>
<text x="243.5" y="255" font-size="3.5" text-anchor="start" textLength="11.5" lengthAdjust="spacingAndGlyphs" fill="#3a3a3a">NFKBIA</text>
<text x="213.5" y="230" font-size="3.5" text-anchor="start" textLength="6" lengthAdjust="spacingAndGlyphs" fill="#3a3a3a">EP300</text>
<text x="197" y="235" font-size="3.5" text-anchor="start" textLength="7.5" lengthAdjust="spacingAndGlyphs" fill="#3a3a3a">IL4R</text>
<text x="201.3" y="243" font-size="3.5" text-anchor="start" textLength="10.5" lengthAdjust="spacingAndGlyphs" fill="#3a3a3a">ARID1A</text>
<text x="219.6" y="269.4" font-size="3.5" text-anchor="start" textLength="9.2" lengthAdjust="spacingAndGlyphs" fill="#3a3a3a">SPEN</text>
<text x="197" y="247.9" font-size="3.5" text-anchor="start" textLength="10" lengthAdjust="spacingAndGlyphs" fill="#3a3a3a">CIITA</text>
<text x="198.6" y="253.4" font-size="3.5" text-anchor="start" textLength="13" lengthAdjust="spacingAndGlyphs" fill="#3a3a3a">BCL2L1</text>
<rect x="195.10" y="181.00" width="122.70" height="94.10" rx="0.6" fill="none" stroke="#1e1e1e" stroke-width="1.2"/>
<line x1="200.20" y1="275.10" x2="200.20" y2="278.30" stroke="#222" stroke-width="0.85"/>
<text x="200.20" y="285.00" font-size="4.5" text-anchor="middle" fill="#555">0</text>
<line x1="192.20" y1="270.80" x2="195.10" y2="270.80" stroke="#222" stroke-width="0.85"/>
<text x="188.70" y="272.40" font-size="4.5" text-anchor="end" fill="#555">0</text>
<line x1="232.20" y1="275.10" x2="232.20" y2="278.30" stroke="#222" stroke-width="0.85"/>
<text x="232.20" y="285.00" font-size="4.5" text-anchor="middle" fill="#555">20</text>
<line x1="192.20" y1="246.36" x2="195.10" y2="246.36" stroke="#222" stroke-width="0.85"/>
<text x="188.70" y="247.96" font-size="4.5" text-anchor="end" fill="#555">20</text>
<line x1="264.20" y1="275.10" x2="264.20" y2="278.30" stroke="#222" stroke-width="0.85"/>
<text x="264.20" y="285.00" font-size="4.5" text-anchor="middle" fill="#555">40</text>
<line x1="192.20" y1="221.92" x2="195.10" y2="221.92" stroke="#222" stroke-width="0.85"/>
<text x="188.70" y="223.52" font-size="4.5" text-anchor="end" fill="#555">40</text>
<line x1="296.20" y1="275.10" x2="296.20" y2="278.30" stroke="#222" stroke-width="0.85"/>
<text x="296.20" y="285.00" font-size="4.5" text-anchor="middle" fill="#555">60</text>
<line x1="192.20" y1="197.48" x2="195.10" y2="197.48" stroke="#222" stroke-width="0.85"/>
<text x="188.70" y="199.08" font-size="4.5" text-anchor="end" fill="#555">60</text>
<text x="215.6" y="294.3" font-size="6.6" text-anchor="start" textLength="82.1" lengthAdjust="spacingAndGlyphs" fill="#161616">Thymic GZL,% mutated cases (N=31)</text>
<text x="180.2" y="276.3" font-size="6.6" text-anchor="start" textLength="98.9" lengthAdjust="spacingAndGlyphs" transform="rotate(-90 180.2 276.3)" fill="#161616">PMBCL, Hung et al., % mutated cases (N=94)</text>
<text x="322.90000000000003" y="207.79999999999998" font-size="4.5" text-anchor="start" textLength="14.2" lengthAdjust="spacingAndGlyphs" fill="#4a4a4a">q-value</text>
<circle cx="324.70" cy="211.80" r="0.6" fill="#1f3f7a"/>
<text x="328.2" y="213.10" font-size="3.6" text-anchor="start" textLength="8.4" lengthAdjust="spacingAndGlyphs" fill="#555">&gt;0.05</text>
<text x="368.8" y="176.6" font-size="6.4" text-anchor="start" textLength="80.5" lengthAdjust="spacingAndGlyphs" fill="#111">Non−Thymic GZL vs PMBCL</text>
<line x1="371.62" y1="272.29" x2="490.18" y2="181.88" stroke="#a0a0a0" stroke-width="0.8" stroke-dasharray="2.4,2.0"/>
<line x1="406.05" y1="181.60" x2="406.05" y2="274.90" stroke="#c13556" stroke-width="1.3" stroke-dasharray="1.9,2.37"/>
<line x1="369.40" y1="246.30" x2="491.60" y2="246.30" stroke="#c13556" stroke-width="1.3" stroke-dasharray="1.9,2.37"/>
<line x1="382.59" y1="244.30" x2="382.59" y2="262.29" stroke="#1f3f7a" stroke-width="1.2" stroke-linecap="round" stroke-opacity="0.55"/>
<line x1="391.48" y1="248.30" x2="391.48" y2="262.29" stroke="#1f3f7a" stroke-width="1.1" stroke-linecap="round" stroke-opacity="0.35"/>
<line x1="373.70" y1="247.50" x2="373.70" y2="263.29" stroke="#1f3f7a" stroke-width="1.7" stroke-linecap="round" stroke-opacity="1"/>
<line x1="373.70" y1="263.29" x2="373.70" y2="270.30" stroke="#1f3f7a" stroke-width="1.7" stroke-linecap="round" stroke-opacity="0.35"/>
<line x1="382.59" y1="264.90" x2="382.59" y2="270.90" stroke="#1f3f7a" stroke-width="1.6" stroke-linecap="round" stroke-opacity="1"/>
<line x1="391.48" y1="264.90" x2="391.48" y2="269.50" stroke="#1f3f7a" stroke-width="1.5" stroke-linecap="round" stroke-opacity="1"/>
<circle cx="382.59" cy="247.80" r="0.75" fill="#1f3f7a" fill-opacity="0.8"/>
<circle cx="382.59" cy="252.30" r="0.6" fill="#1f3f7a" fill-opacity="0.6"/>
<circle cx="382.59" cy="256.30" r="0.6" fill="#1f3f7a" fill-opacity="0.6"/>
<circle cx="382.59" cy="260.70" r="0.6" fill="#1f3f7a" fill-opacity="0.6"/>
<circle cx="382.59" cy="240.30" r="0.6" fill="#1f3f7a" fill-opacity="1"/>
<circle cx="391.48" cy="242.90" r="0.7" fill="#1f3f7a" fill-opacity="1"/>
<circle cx="391.48" cy="247.61" r="0.7" fill="#1f3f7a" fill-opacity="0.8"/>
<circle cx="391.48" cy="251.50" r="0.6" fill="#1f3f7a" fill-opacity="0.6"/>
<circle cx="391.48" cy="256.69" r="0.6" fill="#1f3f7a" fill-opacity="0.5"/>
<circle cx="391.48" cy="260.70" r="0.6" fill="#1f3f7a" fill-opacity="0.6"/>
<circle cx="382.59" cy="237.52" r="1.0" fill="#1f3f7a" fill-opacity="1"/>
<circle cx="391.48" cy="243.74" r="0.8" fill="#1f3f7a" fill-opacity="1"/>
<circle cx="400.37" cy="237.27" r="0.9" fill="#1f3f7a" fill-opacity="1"/>
<circle cx="400.37" cy="221.66" r="1.0" fill="#1f3f7a" fill-opacity="1"/>
<circle cx="400.37" cy="267.41" r="1.0" fill="#1f3f7a" fill-opacity="1"/>
<circle cx="409.26" cy="247.40" r="0.55" fill="#1f3f7a" fill-opacity="1"/>
<circle cx="418.14" cy="255.08" r="0.8" fill="#1f3f7a" fill-opacity="1"/>
<circle cx="374.34" cy="216.17" r="3.35" fill="#bd0f35" stroke="#a00a2c" stroke-width="0.5"/>
<circle cx="374.34" cy="218.00" r="3.25" fill="#bd0f35" stroke="#a00a2c" stroke-width="0.5"/>
<circle cx="374.34" cy="221.41" r="3.25" fill="#bd0f35" stroke="#a00a2c" stroke-width="0.5"/>
<circle cx="374.98" cy="222.39" r="3.15" fill="#bd0f35" stroke="#a00a2c" stroke-width="0.5"/>
<circle cx="373.70" cy="229.22" r="1.9" fill="#b90c32" fill-opacity="1"/>
<circle cx="373.70" cy="233.00" r="1.9" fill="#b90c32" fill-opacity="1"/>
<circle cx="373.70" cy="231.17" r="1.7" fill="#b90c32" fill-opacity="1"/>
<circle cx="373.70" cy="239.71" r="1.5" fill="#b90c32" fill-opacity="1"/>
<circle cx="373.70" cy="242.27" r="1.5" fill="#b90c32" fill-opacity="1"/>
<circle cx="373.70" cy="244.71" r="1.3" fill="#b90c32" fill-opacity="1"/>
<circle cx="382.59" cy="220.31" r="1.5" fill="#b90c32" fill-opacity="1"/>
<circle cx="391.48" cy="201.89" r="3.0500000000000003" fill="#bd0f35" stroke="#a00a2c" stroke-width="0.5"/>
<circle cx="427.03" cy="187.01" r="1.6" fill="#b90c32" fill-opacity="1"/>
<circle cx="435.92" cy="259.48" r="1.6" fill="#b90c32" fill-opacity="1"/>
<circle cx="418.14" cy="268.50" r="1.6" fill="#b90c32" fill-opacity="1"/>
<path d="M383 220.3 L386 219.5 M375.5 221.5 L384.5 224 M375 232 L378 231.2 M374.5 240.5 L385.5 236 M374.5 244 L388.5 241.5" stroke="#222" stroke-width="0.55" fill="none"/>
<text x="425" y="185" font-size="3.5" text-anchor="start" textLength="10" lengthAdjust="spacingAndGlyphs" fill="#3a3a3a">SOCS1</text>
<text x="384.5" y="205.5" font-size="3.5" text-anchor="start" textLength="5" lengthAdjust="spacingAndGlyphs" fill="#3a3a3a">B2M</text>
<text x="377.4" y="215" font-size="3.5" text-anchor="start" textLength="5" lengthAdjust="spacingAndGlyphs" fill="#3a3a3a">NFKBIE</text>
<text x="386" y="220.5" font-size="3.5" text-anchor="start" textLength="10.5" lengthAdjust="spacingAndGlyphs" fill="#3a3a3a">GNA13</text>
<text x="384" y="225" font-size="3.5" text-anchor="start" textLength="13" lengthAdjust="spacingAndGlyphs" fill="#3a3a3a">TNFAIP3</text>
<text x="369.5" y="227.3" font-size="3.5" text-anchor="start" textLength="11.5" lengthAdjust="spacingAndGlyphs" fill="#3a3a3a">ZNF217</text>
<text x="378" y="232" font-size="3.5" text-anchor="start" textLength="13.5" lengthAdjust="spacingAndGlyphs" fill="#3a3a3a">MFHAS1</text>
<text x="369" y="236.8" font-size="3.5" text-anchor="start" textLength="9" lengthAdjust="spacingAndGlyphs" fill="#3a3a3a">CIITA</text>
<text x="386" y="236.8" font-size="3.5" text-anchor="start" textLength="12" lengthAdjust="spacingAndGlyphs" fill="#3a3a3a">IGF2BP2</text>
<text x="389" y="242.5" font-size="3.5" text-anchor="start" textLength="12" lengthAdjust="spacingAndGlyphs" fill="#3a3a3a">ZFP36L1</text>
<text x="369" y="248.2" font-size="3.5" text-anchor="start" textLength="11" lengthAdjust="spacingAndGlyphs" fill="#3a3a3a">BIRC6</text>
<text x="429.4" y="262.4" font-size="3.5" text-anchor="start" textLength="5.5" lengthAdjust="spacingAndGlyphs" fill="#3a3a3a">TP53</text>
<text x="410.5" y="272" font-size="3.5" text-anchor="start" textLength="5.5" lengthAdjust="spacingAndGlyphs" fill="#3a3a3a">BCL2</text>
<rect x="368.60" y="181.10" width="123.00" height="93.80" rx="0.6" fill="none" stroke="#1e1e1e" stroke-width="1.2"/>
<line x1="373.70" y1="274.90" x2="373.70" y2="278.10" stroke="#222" stroke-width="0.85"/>
<text x="373.70" y="284.80" font-size="4.5" text-anchor="middle" fill="#555">0</text>
<line x1="365.70" y1="270.70" x2="368.60" y2="270.70" stroke="#222" stroke-width="0.85"/>
<text x="363.00" y="272.30" font-size="4.5" text-anchor="end" fill="#555">0</text>
<line x1="405.70" y1="274.90" x2="405.70" y2="278.10" stroke="#222" stroke-width="0.85"/>
<text x="405.70" y="284.80" font-size="4.5" text-anchor="middle" fill="#555">20</text>
<line x1="365.70" y1="246.30" x2="368.60" y2="246.30" stroke="#222" stroke-width="0.85"/>
<text x="363.00" y="247.90" font-size="4.5" text-anchor="end" fill="#555">20</text>
<line x1="437.70" y1="274.90" x2="437.70" y2="278.10" stroke="#222" stroke-width="0.85"/>
<text x="437.70" y="284.80" font-size="4.5" text-anchor="middle" fill="#555">40</text>
<line x1="365.70" y1="221.90" x2="368.60" y2="221.90" stroke="#222" stroke-width="0.85"/>
<text x="363.00" y="223.50" font-size="4.5" text-anchor="end" fill="#555">40</text>
<line x1="469.70" y1="274.90" x2="469.70" y2="278.10" stroke="#222" stroke-width="0.85"/>
<text x="469.70" y="284.80" font-size="4.5" text-anchor="middle" fill="#555">60</text>
<line x1="365.70" y1="197.50" x2="368.60" y2="197.50" stroke="#222" stroke-width="0.85"/>
<text x="363.00" y="199.10" font-size="4.5" text-anchor="end" fill="#555">60</text>
<text x="382.4" y="294.5" font-size="6.6" text-anchor="start" textLength="95.8" lengthAdjust="spacingAndGlyphs" fill="#161616">Non−thymic GZL, % mutated cases (N=18)</text>
<text x="353.1" y="275.8" font-size="6.6" text-anchor="start" textLength="95.9" lengthAdjust="spacingAndGlyphs" transform="rotate(-90 353.1 275.8)" fill="#161616">PMBCL, Hung et al., % mutated cases (N=94)</text>
<text x="496.3" y="223.9" font-size="4.5" text-anchor="start" textLength="14.2" lengthAdjust="spacingAndGlyphs" fill="#4a4a4a">q-value</text>
<circle cx="498.10" cy="227.90" r="0.6" fill="#b90c32"/>
<text x="501.59999999999997" y="229.20" font-size="3.6" text-anchor="start" textLength="8.4" lengthAdjust="spacingAndGlyphs" fill="#555">&lt;0.05</text>
<circle cx="498.10" cy="233.10" r="0.6" fill="#1f3f7a"/>
<text x="501.59999999999997" y="234.40" font-size="3.6" text-anchor="start" textLength="8.4" lengthAdjust="spacingAndGlyphs" fill="#555">&gt;0.05</text>
</svg>
</body></html>
